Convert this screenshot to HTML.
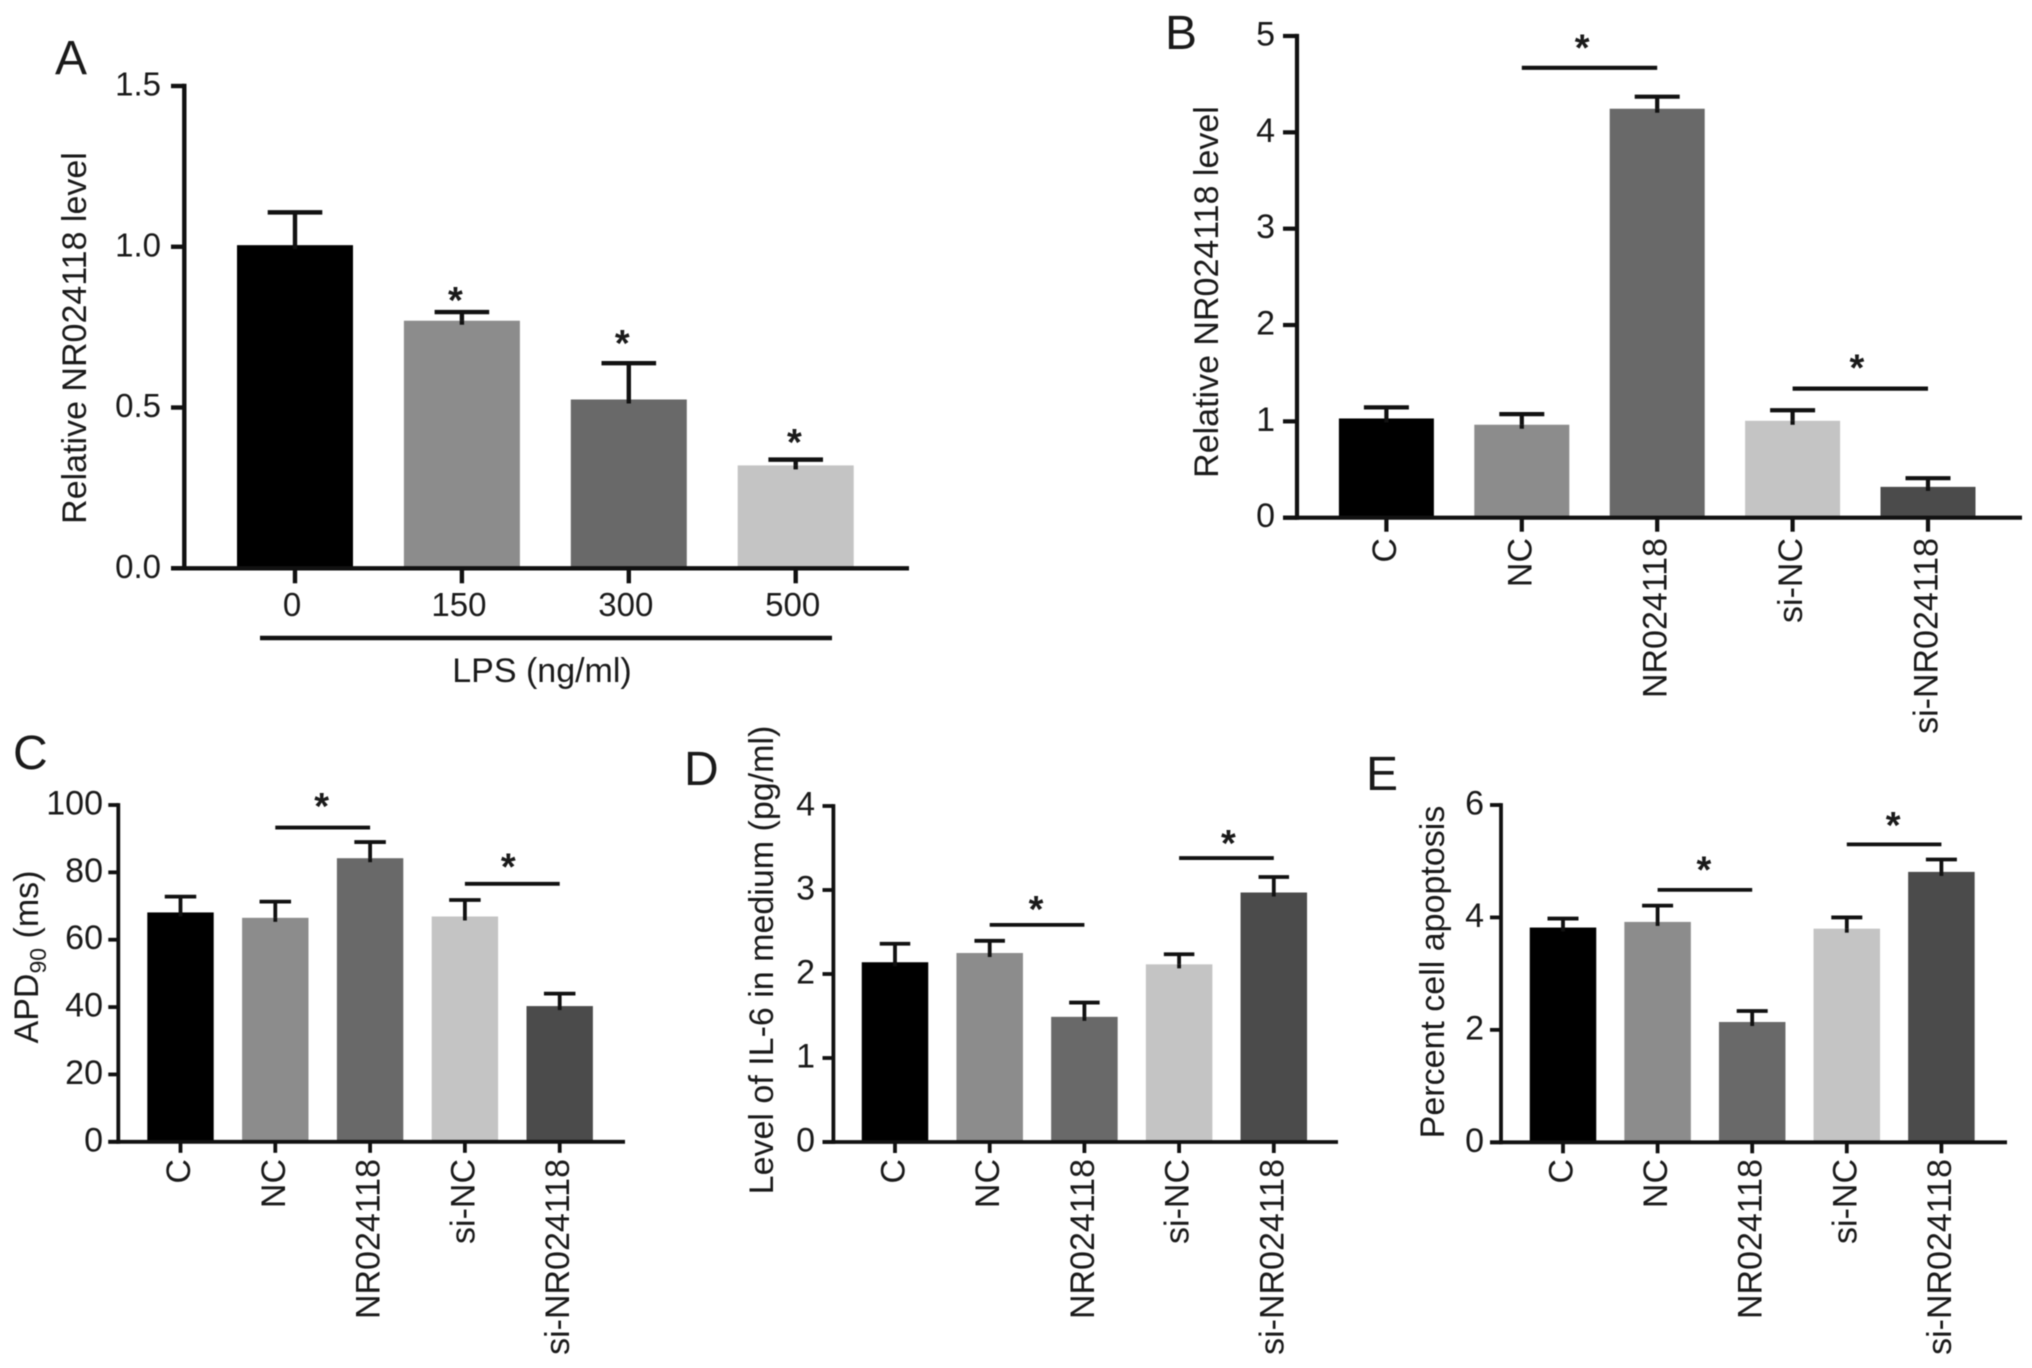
<!DOCTYPE html>
<html lang="en">
<head>
<meta charset="utf-8">
<title>NR024118 bar charts</title>
<style>
html,body{margin:0;padding:0;background:#fff}
svg{display:block;filter:blur(0.6px)}
text{font-family:"Liberation Sans",Arial,sans-serif;fill:#1a1a1a;font-size:34px}
.letter{font-size:48px}
</style>
</head>
<body>
<svg id="figure" xmlns="http://www.w3.org/2000/svg" width="2032" height="1368" viewBox="0 0 2032 1368">
<rect x="0" y="0" width="2032" height="1368" fill="#fff"/>
<g id="panel-a">
  <text class="letter" x="55" y="74">A</text>
  <text transform="translate(86,338) rotate(-90)" text-anchor="middle">Relative NR024118 level</text>
  <line x1="260" x2="832" y1="638" y2="638" stroke="#111" stroke-width="4.4"/>
  <text x="542" y="682" text-anchor="middle">LPS (ng/ml)</text>
</g>
<g id="panel-b">
  <text class="letter" x="1165" y="49">B</text>
  <text transform="translate(1218,292) rotate(-90)" text-anchor="middle">Relative NR024118 level</text>
</g>
<g id="panel-c">
  <text class="letter" x="13" y="769">C</text>
  <text transform="translate(38,957) rotate(-90)" text-anchor="middle">APD<tspan dy="8" font-size="23">90</tspan><tspan dy="-8"> (ms)</tspan></text>
</g>
<g id="panel-d">
  <text class="letter" x="684" y="785">D</text>
  <text transform="translate(773,960) rotate(-90)" text-anchor="middle">Level of IL-6 in medium (pg/ml)</text>
</g>
<g id="panel-e">
  <text class="letter" x="1366" y="790">E</text>
  <text transform="translate(1444,972) rotate(-90)" text-anchor="middle">Percent cell apoptosis</text>
</g>
</svg>
<script>
const groupLabels = ['C', 'NC', 'NR024118', 'si-NC', 'si-NR024118'];
const lpsLabels = ['0', '150', '300', '500'];

const panelAValues = [1.005, 0.77, 0.525, 0.32];
const panelAErrors = [0.102, 0.027, 0.113, 0.018];
const panelATicks = [0, 0.5, 1.0, 1.5];
const panelATickLabels = ['0.0', '0.5', '1.0', '1.5'];
const panelAStarGroups = [1, 2, 3];
const panelAStarLevels = [0.85, 0.717, 0.409];

const panelBValues = [1.03, 0.965, 4.245, 1.006, 0.32];
const panelBErrors = [0.115, 0.11, 0.125, 0.109, 0.09];
const panelBTicks = [0, 1, 2, 3, 4, 5];
const panelBTickLabels = ['0', '1', '2', '3', '4', '5'];
const panelBBracketFrom = [1, 3];
const panelBBracketTo = [2, 4];
const panelBBracketLevels = [4.67, 1.34];
const panelBStarLevels = [4.935, 1.61];

const panelCValues = [68.1, 66.5, 84.2, 66.9, 40.3];
const panelCErrors = [4.7, 4.8, 4.8, 4.9, 3.7];
const panelCTicks = [0, 20, 40, 60, 80, 100];
const panelCTickLabels = ['0', '20', '40', '60', '80', '100'];
const panelCBracketFrom = [1, 3];
const panelCBracketTo = [2, 4];
const panelCBracketLevels = [93.3, 76.6];
const panelCStarLevels = [101.2, 83.2];

const panelDValues = [2.14, 2.25, 1.49, 2.115, 2.97];
const panelDErrors = [0.22, 0.145, 0.17, 0.12, 0.185];
const panelDTicks = [0, 1, 2, 3, 4];
const panelDTickLabels = ['0', '1', '2', '3', '4'];
const panelDBracketFrom = [1, 3];
const panelDBracketTo = [2, 4];
const panelDBracketLevels = [2.585, 3.38];
const panelDStarLevels = [2.835, 3.62];

const panelEValues = [3.82, 3.92, 2.14, 3.8, 4.81];
const panelEErrors = [0.16, 0.29, 0.195, 0.2, 0.22];
const panelETicks = [0, 2, 4, 6];
const panelETickLabels = ['0', '2', '4', '6'];
const panelEBracketFrom = [1, 3];
const panelEBracketTo = [2, 4];
const panelEBracketLevels = [4.49, 5.3];
const panelEStarLevels = [4.94, 5.73];

const barFills = ['#000000', '#8c8c8c', '#696969', '#c4c4c4', '#4b4b4b'];
const barFillsA = ['#000000', '#8c8c8c', '#696969', '#c4c4c4'];
const NS = 'http://www.w3.org/2000/svg';
const STAR_STYLE = 'font-size:38px;font-weight:bold';
const STAR_BASELINE = 18;

function make(tag, attrs, parent) {
  const node = document.createElementNS(NS, tag);
  for (const key in attrs) node.setAttribute(key, attrs[key]);
  parent.appendChild(node);
  return node;
}
function slug(text) {
  return String(text).toLowerCase().replace(/[^a-z0-9]+/g, '-');
}
function line(parent, x1, y1, x2, y2, sw) {
  return make('line', {x1: x1, y1: y1, x2: x2, y2: y2, stroke: '#111', 'stroke-width': sw}, parent);
}

function drawPanel(cfg) {
  const g = document.getElementById(cfg.id);
  const maxTick = cfg.ticks[cfg.ticks.length - 1];
  const yScale = function (v) { return cfg.y0 - (v / maxTick) * (cfg.y0 - cfg.yTop); };
  const xScale = function (i) { return cfg.x1st + i * cfg.step; };

  cfg.values.forEach(function (value, i) {
    const cat = cfg.categories[i];
    const cx = xScale(i);
    const top = yScale(value);
    const errTop = yScale(value + cfg.errors[i]);

    const stem = line(g, cx, errTop, cx, top + 4, cfg.sw);
    
    

    const cap = line(g, cx - cfg.cap / 2, errTop, cx + cfg.cap / 2, errTop, cfg.sw);
    
    

    const bar = make('rect', {x: cx - cfg.barW / 2, y: top, width: cfg.barW, height: cfg.y0 - top, fill: cfg.fills[i]}, g);
    
    

    const stemFront = line(g, cx, top, cx, top + 4, cfg.sw);
    
    

    const tick = line(g, cx, cfg.y0, cx, cfg.y0 + cfg.tickLen, cfg.sw);
    
    

    if (cfg.rotated) {
      const label = make('text', {transform: 'translate(' + (cx + 9.5) + ',' + cfg.labelTop + ') rotate(-90)', 'text-anchor': 'end'}, g);
      label.textContent = cat;
      
      
    } else {
      const label = make('text', {x: cx - 3, y: cfg.labelTop, 'text-anchor': 'middle', style: 'font-size:33px'}, g);
      label.textContent = cat;
      
      
    }
  });

  const yAxis = line(g, cfg.axisX, cfg.yTop - cfg.sw / 2, cfg.axisX, cfg.y0 + cfg.sw / 2, cfg.sw);
  
  

  const xAxis = line(g, cfg.axisStart, cfg.y0, cfg.axisEnd, cfg.y0, cfg.sw);
  
  

  cfg.ticks.forEach(function (tv, i) {
    const ty = yScale(tv);
    const tick = line(g, cfg.axisStart, ty, cfg.axisX, ty, cfg.sw);
    
    

    const label = make('text', {x: cfg.tickRight, y: ty + 9.5, 'text-anchor': 'end', style: 'font-size:' + cfg.tickFont + 'px'}, g);
    label.textContent = cfg.tickLabels[i];
    
    
  });

  (cfg.bracketLevels || []).forEach(function (level, i) {
    const xa = xScale(cfg.bracketFrom[i]);
    const xb = xScale(cfg.bracketTo[i]);
    const by = yScale(level);
    const bracket = line(g, xa, by, xb, by, cfg.sw);
    
    

    const star = make('text', {x: (xa + xb) / 2 + cfg.starShifts[i], y: yScale(cfg.starLevels[i]) + STAR_BASELINE, 'text-anchor': 'middle', style: STAR_STYLE}, g);
    star.textContent = '*';
    
    
  });

  (cfg.starGroups || []).forEach(function (groupIndex, i) {
    const star = make('text', {x: xScale(groupIndex) + cfg.starShifts[i], y: yScale(cfg.starGroupLevels[i]) + STAR_BASELINE, 'text-anchor': 'middle', style: STAR_STYLE}, g);
    star.textContent = '*';
    
    
  });
}

drawPanel({id: 'panel-a', categories: lpsLabels, values: panelAValues, errors: panelAErrors, ticks: panelATicks, tickLabels: panelATickLabels,
  starGroups: panelAStarGroups, starGroupLevels: panelAStarLevels, starShifts: [-6.5, -6.5, -1.3], fills: barFillsA,
  axisX: 184.3, axisStart: 171, axisEnd: 909, y0: 568.3, yTop: 86, x1st: 295, step: 166.9, barW: 116, cap: 54.6, sw: 4.4, tickLen: 15, tickRight: 161, tickFont: 33, labelTop: 616, rotated: false});

drawPanel({id: 'panel-b', categories: groupLabels, values: panelBValues, errors: panelBErrors, ticks: panelBTicks, tickLabels: panelBTickLabels,
  bracketFrom: panelBBracketFrom, bracketTo: panelBBracketTo, bracketLevels: panelBBracketLevels, starLevels: panelBStarLevels, starShifts: [-7.3, -3.4], fills: barFills,
  axisX: 1297, axisStart: 1283, axisEnd: 2022, y0: 517.7, yTop: 36, x1st: 1386.4, step: 135.4, barW: 95, cap: 45, sw: 4.2, tickLen: 14, tickRight: 1275, tickFont: 34, labelTop: 538, rotated: true});

drawPanel({id: 'panel-c', categories: groupLabels, values: panelCValues, errors: panelCErrors, ticks: panelCTicks, tickLabels: panelCTickLabels,
  bracketFrom: panelCBracketFrom, bracketTo: panelCBracketTo, bracketLevels: panelCBracketLevels, starLevels: panelCStarLevels, starShifts: [-1, -4], fills: barFills,
  axisX: 118.3, axisStart: 108.3, axisEnd: 625, y0: 1141.8, yTop: 805, x1st: 180.5, step: 94.8, barW: 66.4, cap: 31.5, sw: 3.8, tickLen: 11, tickRight: 103, tickFont: 34, labelTop: 1159, rotated: true});

drawPanel({id: 'panel-d', categories: groupLabels, values: panelDValues, errors: panelDErrors, ticks: panelDTicks, tickLabels: panelDTickLabels,
  bracketFrom: panelDBracketFrom, bracketTo: panelDBracketTo, bracketLevels: panelDBracketLevels, starLevels: panelDStarLevels, starShifts: [-1, 2], fills: barFills,
  axisX: 833.4, axisStart: 822.5, axisEnd: 1338, y0: 1142, yTop: 806, x1st: 895, step: 94.7, barW: 66.5, cap: 30.5, sw: 3.8, tickLen: 11, tickRight: 815, tickFont: 34, labelTop: 1159, rotated: true});

drawPanel({id: 'panel-e', categories: groupLabels, values: panelEValues, errors: panelEErrors, ticks: panelETicks, tickLabels: panelETickLabels,
  bracketFrom: panelEBracketFrom, bracketTo: panelEBracketTo, bracketLevels: panelEBracketLevels, starLevels: panelEStarLevels, starShifts: [-1, -1], fills: barFills,
  axisX: 1501, axisStart: 1490, axisEnd: 2007, y0: 1142.3, yTop: 805, x1st: 1563, step: 94.6, barW: 66.5, cap: 31, sw: 3.8, tickLen: 11, tickRight: 1484, tickFont: 34, labelTop: 1159, rotated: true});
</script>
</body>
</html>
